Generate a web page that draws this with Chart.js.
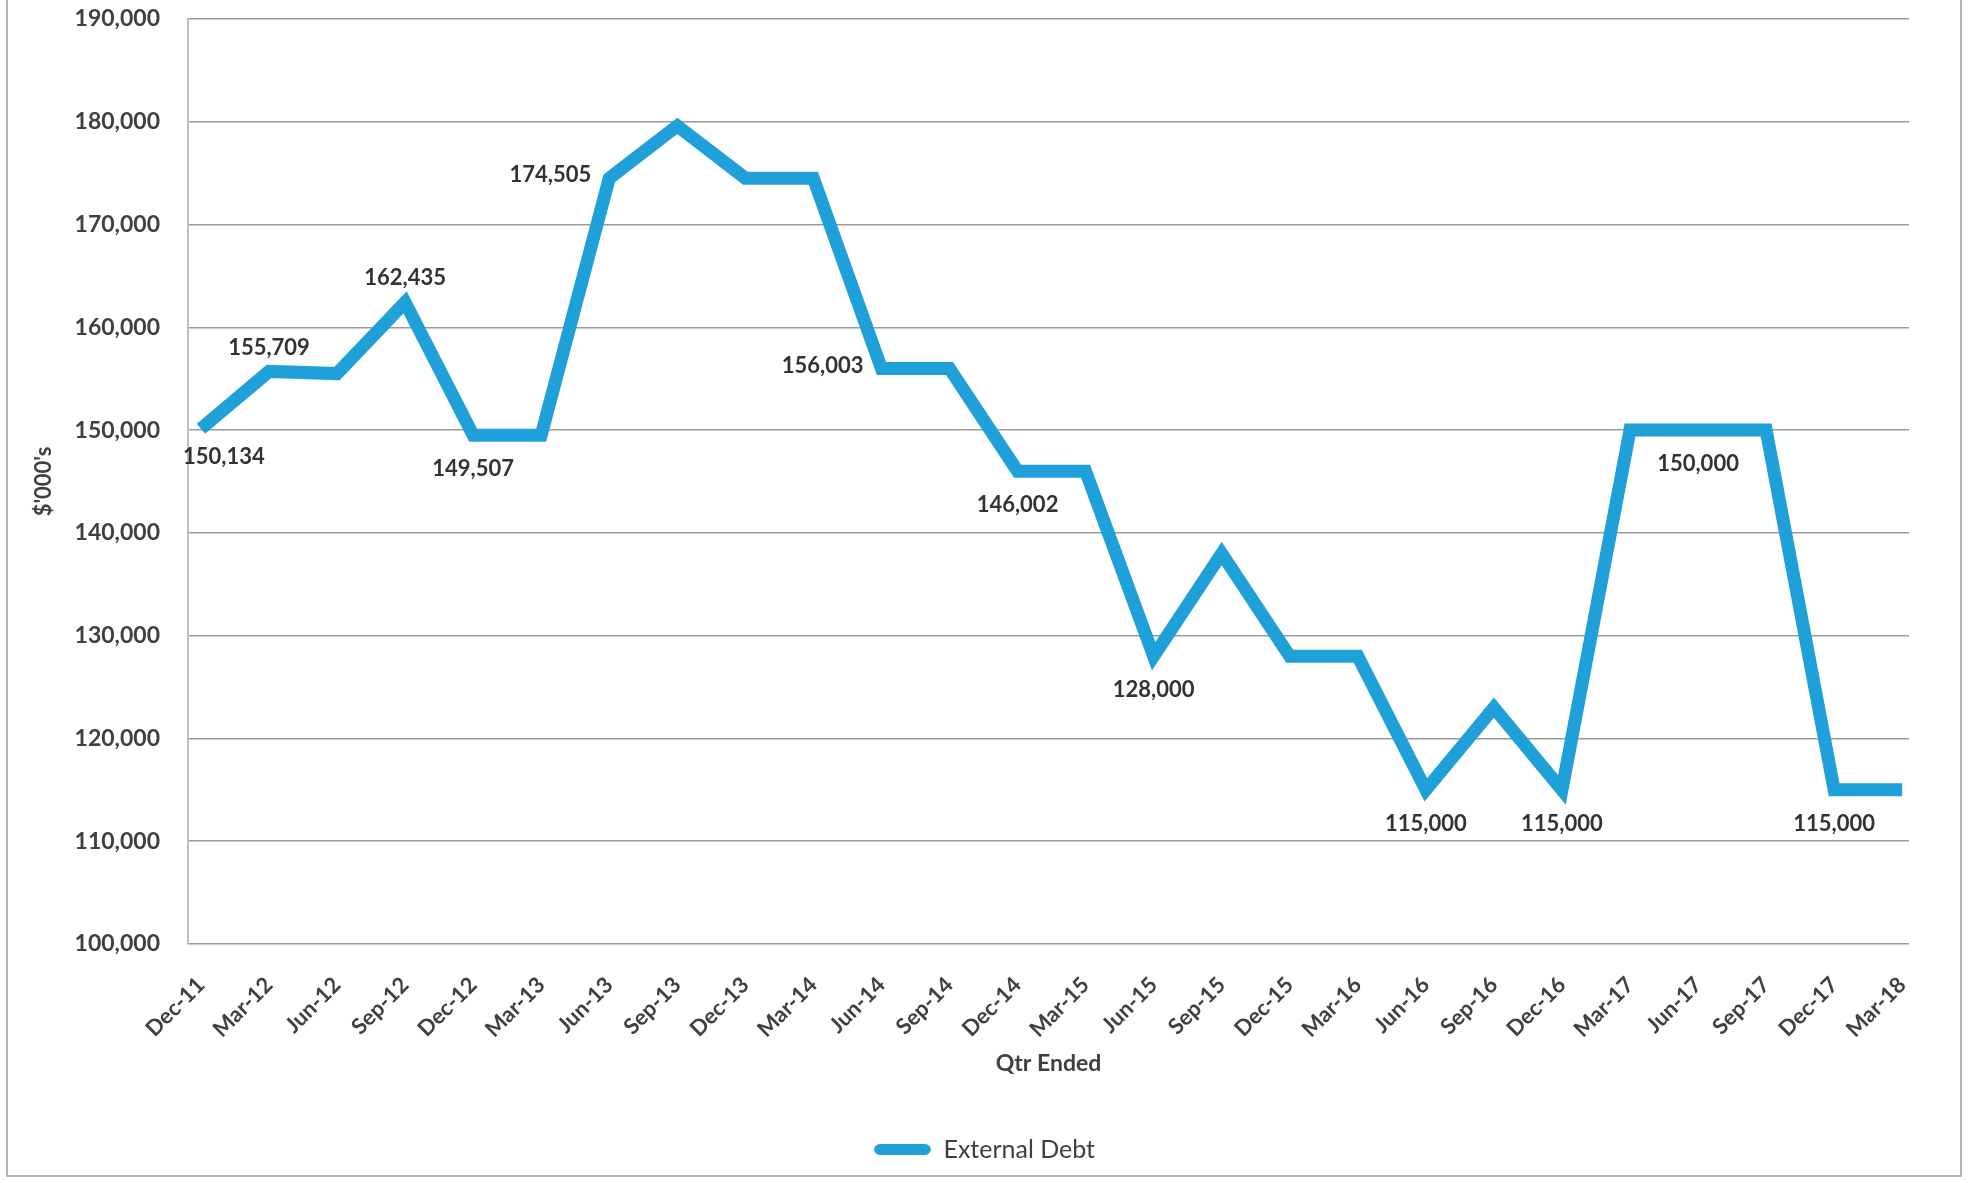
<!DOCTYPE html>
<html>
<head>
<meta charset="utf-8">
<script src="https://cdn.jsdelivr.net/npm/chart.js@4"></script>
<style>
    html, body { margin: 0; padding: 0; background: #fff; }
</style>
</head>
<body>
<canvas id="DebtChart" width="1969" height="1180"></canvas>
<script>
const quarters = ['Dec-11', 'Mar-12', 'Jun-12', 'Sep-12', 'Dec-12', 'Mar-13', 'Jun-13', 'Sep-13',
    'Dec-13', 'Mar-14', 'Jun-14', 'Sep-14', 'Dec-14', 'Mar-15', 'Jun-15', 'Sep-15', 'Dec-15',
    'Mar-16', 'Jun-16', 'Sep-16', 'Dec-16', 'Mar-17', 'Jun-17', 'Sep-17', 'Dec-17', 'Mar-18'];
const external_debt = [150134, 155709, 155500, 162435, 149507, 149507, 174505, 179600,
    174505, 174505, 156003, 156003, 146002, 146002, 128000, 138000, 128000,
    128000, 115000, 123000, 115000, 150000, 150000, 150000, 115000, 115000];
// which points carry a value label, and where it sits
const label_place = ['belowRight', 'above', null, 'above', 'below', null, 'left', null,
    null, null, 'left', null, 'below', null, 'below', null, null,
    null, 'below', null, 'below', null, 'below', null, 'below', null];
const y_min = 100000;
const y_max = 190000;
const y_step = 10000;

const lineColour = 'rgb(31, 160, 217)';
const fontFamily = 'Lato, "Open Sans", sans-serif';
Chart.defaults.font.family = fontFamily;

const frame = {
    id: 'frame',
    beforeDraw(chart) {
        const ctx = chart.ctx;
        ctx.save();
        ctx.fillStyle = '#fff';
        ctx.fillRect(0, 0, chart.width, chart.height);
        ctx.strokeStyle = '#b5b5b5';
        ctx.lineWidth = 2;
        ctx.strokeRect(7, -4, 1954, 1180);
        ctx.restore();
    }
};

const valueLabels = {
    id: 'valueLabels',
    afterDatasetsDraw(chart) {
        const ctx = chart.ctx;
        const meta = chart.getDatasetMeta(0);
        ctx.save();
        ctx.font = 'bold 22px ' + fontFamily;
        ctx.fillStyle = '#333333';
        meta.data.forEach(function (pt, i) {
            const where = label_place[i];
            if (!where) return;
            const text = external_debt[i].toLocaleString('en-US');
            let x = pt.x, y = pt.y;
            ctx.textAlign = 'center';
            ctx.textBaseline = 'middle';
            if (where === 'above') y -= 24;
            else if (where === 'below') y += 34;
            else if (where === 'belowRight') { x += 23; y += 28; }
            else if (where === 'left') { ctx.textAlign = 'right'; x -= 18; y -= 3; }
            ctx.fillText(text, x, y);
        });
        ctx.restore();
    }
};

const debt_data = {
    datasets: [{
        label: 'External Debt',
        data: external_debt.map(function (v, i) { return { x: i, y: v }; }),
        borderColor: lineColour,
        backgroundColor: lineColour,
        borderWidth: 13,
        pointRadius: 0,
        pointHoverRadius: 0,
        tension: 0,
        fill: false,
        clip: false
    }]
};

const configDebt = {
    type: 'line',
    data: debt_data,
    plugins: [frame, valueLabels],
    options: {
        responsive: false,
        animation: false,
        layout: {
            padding: { left: 60, right: 60, top: 19, bottom: 8 }
        },
        plugins: {
            tooltip: { enabled: false },
            legend: {
                position: 'bottom',
                labels: {
                    color: '#404040',
                    font: { size: 25 },
                    boxWidth: 57,
                    boxHeight: 11,
                    useBorderRadius: true,
                    borderRadius: 6,
                    padding: 10,
                    generateLabels: function (chart) {
                        const items = Chart.defaults.plugins.legend.labels.generateLabels(chart);
                        items.forEach(function (it) {
                            it.lineWidth = 0;
                            it.fillStyle = lineColour;
                            it.strokeStyle = lineColour;
                            it.borderRadius = 6;
                        });
                        return items;
                    }
                }
            }
        },
        scales: {
            x: {
                type: 'linear',
                min: -0.19,
                max: 25.1,
                afterBuildTicks: function (scale) {
                    scale.ticks = quarters.map(function (q, i) { return { value: i }; });
                },
                afterFit: function (scale) { scale.height = 183; },
                grid: { display: false },
                border: { display: false },
                ticks: {
                    autoSkip: false,
                    maxRotation: 45,
                    minRotation: 45,
                    padding: 20,
                    color: '#404040',
                    font: { size: 22, weight: 'bold' },
                    callback: function (value) { return quarters[value]; }
                },
                title: {
                    display: true,
                    text: 'Qtr Ended',
                    color: '#404040',
                    font: { size: 23, weight: 'bold' },
                    padding: { top: 4, bottom: 50 }
                }
            },
            y: {
                min: y_min,
                max: y_max,
                afterFit: function (scale) { scale.width = 128; },
                grid: { color: '#9a9a9a', lineWidth: 1.5, drawTicks: true, tickLength: 28, tickColor: 'rgba(0,0,0,0)' },
                border: { display: true, color: '#bdbdbd', width: 2 },
                ticks: {
                    stepSize: y_step,
                    padding: 0,
                    color: '#404040',
                    font: { size: 23, weight: 'bold' },
                    callback: function (value) { return value.toLocaleString('en-US'); }
                },
                title: {
                    display: true,
                    text: "$'000's",
                    color: '#404040',
                    font: { size: 22, weight: 'bold' },
                    padding: { top: -29, bottom: 0 }
                }
            }
        }
    }
};

const DebtChart = new Chart(
    document.getElementById('DebtChart'),
    configDebt
);
</script>
</body>
</html>
